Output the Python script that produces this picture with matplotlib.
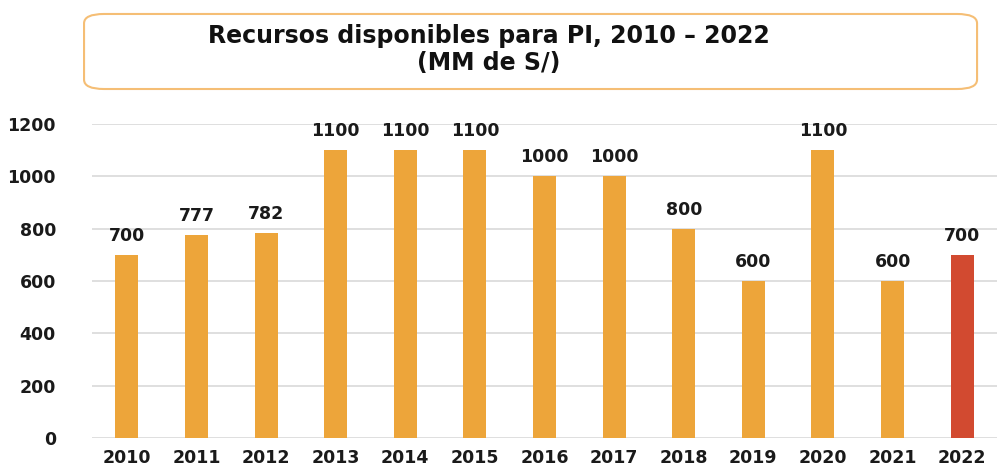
import matplotlib.pyplot as plt
from matplotlib.patches import FancyBboxPatch

years = ['2010', '2011', '2012', '2013', '2014', '2015', '2016',
         '2017', '2018', '2019', '2020', '2021', '2022']
recursos = [700, 777, 782, 1100, 1100, 1100, 1000, 1000, 800, 600, 1100, 600, 700]
yticks = [0, 200, 400, 600, 800, 1000, 1200]

orange = '#EDA53A'
red = '#D24A30'
colors = [orange] * (len(years) - 1) + [red]

fig = plt.figure(figsize=(9.97, 4.66), dpi=100)
ax = fig.add_axes([0.0923, 0.060, 0.9077, 0.6743])

x = range(len(years))
ax.bar(x, recursos, width=0.33, color=colors, zorder=3)

# value labels over each bar
for i, v in enumerate(recursos):
    ax.text(i, v + 38, str(v), ha='center', va='bottom',
            fontsize=12.5, fontweight='bold', color='#1a1a1a')

ax.set_xlim(-0.5, 12.5)
ax.set_ylim(0, 1200)
ax.set_yticks(yticks)
ax.set_xticks(list(x))
ax.set_xticklabels(years)
ax.yaxis.grid(True, color='#D9D9D9', linewidth=1.2, zorder=0)
ax.tick_params(length=0, labelsize=12.5, colors='#1a1a1a')
ax.tick_params(axis='y', pad=26)
ax.tick_params(axis='x', pad=8)
for lab in ax.get_xticklabels() + ax.get_yticklabels():
    lab.set_fontweight('bold')
for s in ax.spines.values():
    s.set_visible(False)

# title box
box = FancyBboxPatch((0.0843, 0.809), 0.8957, 0.161,
                     boxstyle='round,pad=0,rounding_size=0.02',
                     transform=fig.transFigure, facecolor='white',
                     edgecolor='#F5BE75', linewidth=1.5)
fig.patches.append(box)
fig.text(0.49, 0.9077, 'Recursos disponibles para PI, 2010 – 2022',
         ha='center', va='baseline', fontsize=17, fontweight='bold',
         color='#111111')
fig.text(0.49, 0.850, '(MM de S/)', ha='center', va='baseline',
         fontsize=17, fontweight='bold', color='#111111')

fig.savefig('out.png', dpi=100)
